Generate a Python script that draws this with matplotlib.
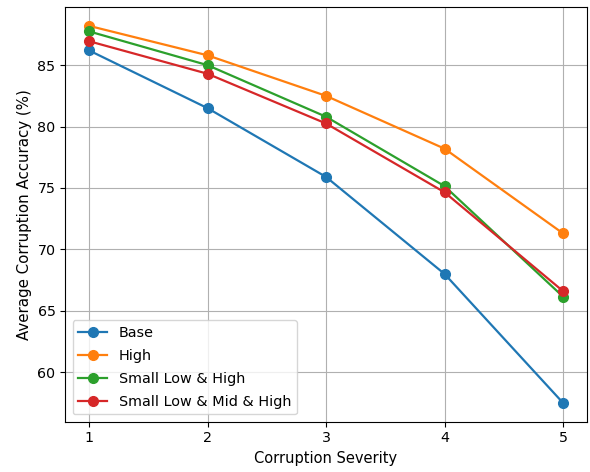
import matplotlib
matplotlib.use("Agg")
import matplotlib.pyplot as plt

severity = [1, 2, 3, 4, 5]
base = [86.2, 81.5, 75.9, 68.0, 57.5]
high = [88.2, 85.8, 82.5, 78.2, 71.3]
small_low_high = [87.75, 85.0, 80.8, 75.15, 66.15]
small_low_mid_high = [86.95, 84.3, 80.25, 74.65, 66.6]
labels = ["Base", "High", "Small Low & High", "Small Low & Mid & High"]

fig = plt.figure(figsize=(5.9, 4.72), dpi=100)
ax = fig.add_axes([65.3/590, 1-421.7/472, (586.7-65.3)/590, (421.7-7)/472])
for vals, lab in zip([base, high, small_low_high, small_low_mid_high], labels):
    ax.plot(severity, vals, marker="o", markersize=7, linewidth=1.6, label=lab)
ax.set_xticks(severity)
ax.tick_params(labelsize=10.3)
ax.set_xlabel("Corruption Severity", fontsize=10.5)
ax.set_ylabel("Average Corruption Accuracy (%)", fontsize=10.8)
ax.grid(True)
ax.legend(loc="lower left", fontsize=10.4, labelspacing=0.62)
fig.savefig("out.png", dpi=100)
